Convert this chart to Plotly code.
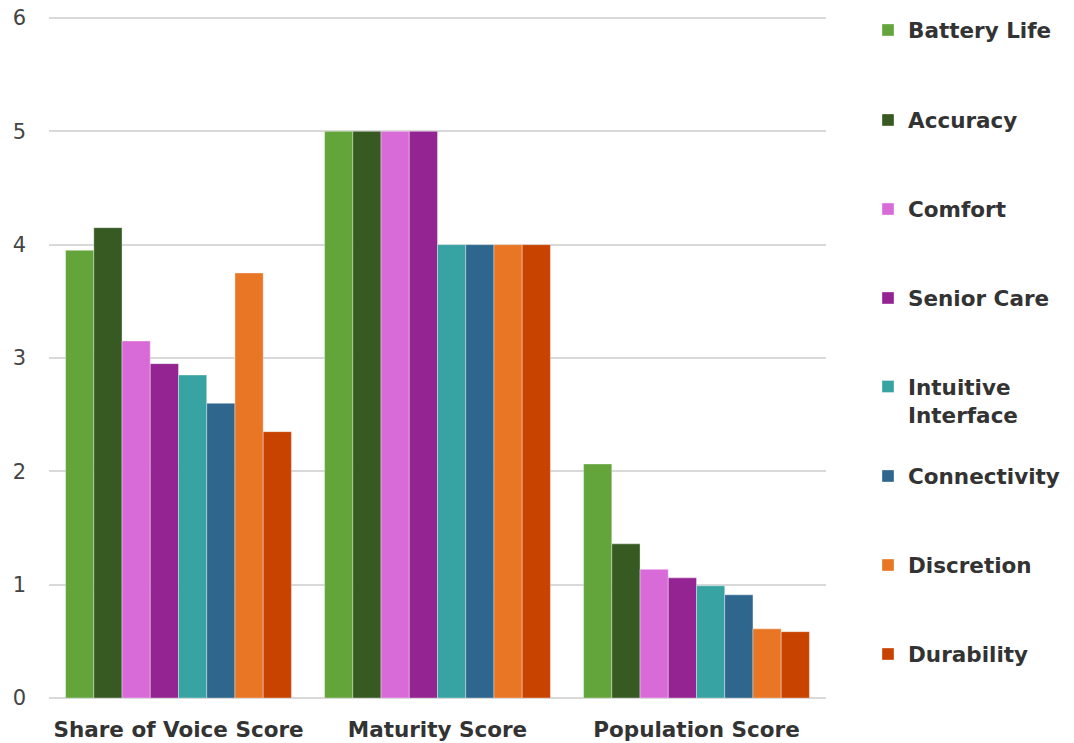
import plotly.graph_objects as go

# Chart data
categories = ["Share of Voice Score", "Maturity Score", "Population Score"]
series_names = ["Battery Life", "Accuracy", "Comfort", "Senior Care",
                "Intuitive<br>Interface", "Connectivity", "Discretion", "Durability"]
battery_life = [3.95, 5, 2.065]
accuracy = [4.15, 5, 1.36]
comfort = [3.15, 5, 1.135]
senior_care = [2.95, 5, 1.06]
intuitive_interface = [2.85, 4, 0.99]
connectivity = [2.6, 4, 0.91]
discretion = [3.75, 4, 0.61]
durability = [2.35, 4, 0.585]
y_ticks = [0, 1, 2, 3, 4, 5, 6]

series_values = [battery_life, accuracy, comfort, senior_care,
                 intuitive_interface, connectivity, discretion, durability]
colors = ["#63a53a", "#365a22", "#d96bd8", "#932492",
          "#37a3a2", "#2e668e", "#e87624", "#c84300"]

W, H = 1074, 743
# legend label centres (px from top) for each series
legend_centres = [30, 120, 209, 298, 387, 476, 565, 654]

FONT = "DejaVu Sans"

fig = go.Figure()
layout_legends = {}
for i, (name, vals, col) in enumerate(zip(series_names, series_values, colors)):
    key = "legend" if i == 0 else f"legend{i + 1}"
    fig.add_trace(go.Bar(
        x=categories, y=vals, name=name,
        marker=dict(color=col, line=dict(color="rgba(255,255,255,0.45)", width=0.8)),
        legend=key,
    ))
    two_line = "<br>" in name
    layout_legends[key] = dict(
        xref="container", yref="container",
        x=868 / W,
        y=1 - (legend_centres[i] - (21 if two_line else 0)) / H,
        xanchor="left",
        yanchor="top" if two_line else "middle",
        valign="top" if two_line else "middle",
        font=dict(family=FONT, size=21.5, color="#333333", weight="bold"),
        bgcolor="rgba(0,0,0,0)",
        itemclick=False,
    )

fig.update_layout(
    width=W, height=H,
    margin=dict(l=49, r=248, t=17, b=45, autoexpand=False),
    paper_bgcolor="white", plot_bgcolor="white",
    barmode="group", bargap=0.128, bargroupgap=0,
    showlegend=True,
    xaxis=dict(
        tickfont=dict(family=FONT, size=21.5, color="#333333", weight="bold"),
        showgrid=False, showline=False, ticks="", ticklabelstandoff=16,
    ),
    yaxis=dict(
        range=[0, 6.009], tickvals=y_ticks,
        tickfont=dict(family=FONT, size=21, color="#444444"),
        showgrid=True, gridcolor="#d9d9d9", gridwidth=1.6,
        zeroline=True, zerolinecolor="#d9d9d9", zerolinewidth=1.6,
        showline=False, ticks="", ticklabelstandoff=22,
    ),
    **layout_legends,
)

fig.write_html("out.html")
